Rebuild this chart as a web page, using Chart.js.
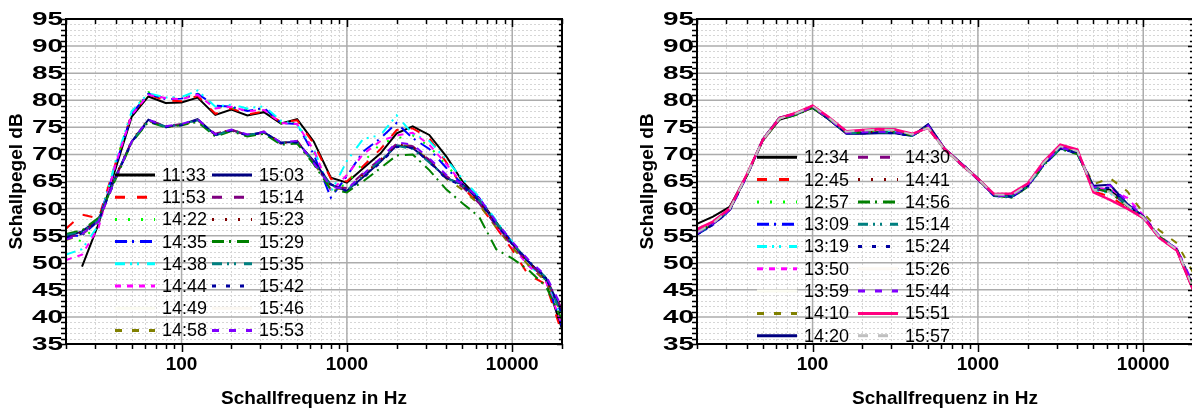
<!DOCTYPE html>
<html>
<head>
<meta charset="utf-8">
<script src="https://cdn.jsdelivr.net/npm/chart.js@4"></script>
<style>
  html, body { margin: 0; padding: 0; background: #fff; overflow: hidden; width: 1192px; height: 411px; }
  #left { position: absolute; left: 0; top: 0; }
  #right { position: absolute; left: 631px; top: 0; }
</style>
</head>
<body>
<canvas id="left" width="631" height="411"></canvas>
<canvas id="right" width="563" height="411"></canvas>
<script>
// third-octave bands
const FREQ = [20, 25, 31.5, 40, 50, 63, 80, 100, 125, 160, 200, 250, 315, 400, 500, 630, 800,
  1000, 1250, 1600, 2000, 2500, 3150, 4000, 5000, 6300, 8000, 10000, 12500, 16000, 20000];
const X_TICKS = [100, 1000, 10000];
const Y_TICKS = [35, 40, 45, 50, 55, 60, 65, 70, 75, 80, 85, 90, 95];
const X_TITLE = 'Schallfrequenz in Hz';
const Y_TITLE = 'Schallpegel dB';

// left panel
const LEFT_NAMES = ['11:33', '11:53', '14:22', '14:35', '14:38', '14:44', '14:49', '14:58',
  '15:03', '15:14', '15:23', '15:29', '15:35', '15:42', '15:46', '15:53'];
const L1133 = [null, 49.3, 57.2, 67.5, 77.0, 80.7, 79.5, 79.6, 80.5, 77.3, 78.3, 77.2, 77.8, 75.7, 76.5, 72.4, 65.7, 64.8, 67.4, 70.2, 73.9, 75.2, 73.6, 69.6, 65.0, 61.8, 57.5, 53.6, 50.2, 46.8, 37.8];
const L1153 = [56.3, 58.9, 58.2, 68.5, 77.5, 81.0, 80.0, 79.8, 80.8, 77.5, 78.5, 77.4, 77.9, 76.0, 76.3, 72.0, 65.5, 65.0, 67.8, 71.0, 74.5, 74.8, 73.0, 68.5, 64.0, 60.8, 56.5, 52.4, 47.8, 46.0, 37.0];
const L1422 = [54.5, 54.0, 57.5, 68.5, 77.8, 81.5, 80.3, 80.5, 81.3, 78.8, 78.6, 78.2, 78.4, 75.8, 75.8, 70.5, 63.5, 64.5, 68.5, 72.0, 73.0, 73.5, 71.5, 68.0, 64.8, 61.5, 57.2, 53.0, 49.8, 46.8, 39.0];
const L1435 = [55.0, 55.0, 57.8, 68.0, 77.5, 81.2, 80.2, 80.3, 81.2, 79.0, 78.8, 78.0, 78.6, 75.8, 75.6, 70.0, 62.0, 66.0, 70.5, 73.0, 75.8, 73.0, 71.0, 67.5, 64.5, 62.0, 57.4, 53.8, 50.3, 47.0, 38.2];
const L1438 = [51.5, 52.5, 57.0, 68.8, 78.0, 81.3, 80.5, 80.6, 81.8, 78.8, 79.2, 78.5, 78.9, 76.2, 75.5, 71.0, 63.0, 68.8, 72.8, 73.6, 77.2, 73.8, 72.5, 69.0, 65.5, 62.2, 57.8, 53.8, 49.5, 47.2, 39.5];
const L1444 = [50.5, 51.5, 56.5, 68.3, 77.3, 81.0, 80.4, 80.2, 81.0, 78.5, 78.8, 78.0, 78.2, 75.8, 75.6, 70.8, 63.2, 66.2, 70.0, 72.5, 73.5, 74.0, 71.8, 68.2, 64.6, 61.8, 57.0, 53.0, 49.5, 46.5, 38.5];
const L1449 = [54.0, 54.8, 57.6, 68.2, 77.4, 81.0, 80.1, 80.2, 81.0, 78.4, 78.6, 77.9, 78.3, 75.9, 75.8, 71.0, 64.0, 65.5, 69.0, 72.0, 74.0, 73.8, 72.0, 68.3, 64.8, 61.6, 57.3, 53.3, 49.8, 46.8, 38.5];
const L1458 = [54.2, 55.2, 57.6, 65.6, 72.3, 76.2, 75.0, 75.4, 76.3, 73.6, 74.4, 73.5, 74.0, 72.0, 72.2, 68.4, 63.8, 63.5, 66.0, 69.0, 71.8, 71.5, 68.8, 65.5, 63.5, 60.8, 56.5, 52.8, 49.6, 46.6, 40.5];
const L1503 = [54.8, 55.8, 58.0, 66.0, 72.4, 76.4, 75.1, 75.5, 76.5, 73.6, 74.5, 73.6, 74.1, 72.2, 72.3, 68.8, 64.4, 63.3, 65.8, 68.7, 71.7, 71.2, 68.7, 65.6, 64.5, 61.5, 57.2, 53.5, 50.2, 47.2, 41.0];
const L1514 = [54.5, 55.5, 57.8, 65.8, 72.5, 76.3, 75.2, 75.6, 76.4, 73.8, 74.6, 73.5, 74.0, 72.0, 72.5, 68.5, 64.0, 63.8, 66.5, 69.2, 72.0, 71.5, 69.0, 66.0, 64.0, 61.0, 56.8, 53.2, 50.0, 47.0, 41.5];
const L1523 = [55.0, 55.6, 58.1, 66.1, 72.6, 76.5, 75.2, 75.5, 76.4, 73.7, 74.6, 73.6, 74.2, 72.1, 72.4, 68.6, 64.2, 63.6, 66.2, 69.0, 71.9, 71.4, 68.9, 65.8, 64.2, 61.3, 57.0, 53.4, 50.1, 47.1, 40.8];
const L1529 = [55.3, 56.0, 58.3, 65.5, 72.2, 76.0, 75.0, 75.4, 76.0, 73.3, 74.3, 73.3, 73.8, 71.8, 72.0, 68.2, 63.5, 63.0, 65.0, 67.5, 69.8, 70.0, 67.1, 63.5, 61.0, 58.5, 52.5, 50.8, 48.7, 45.6, 39.5];
const L1535 = [55.1, 55.7, 57.9, 65.9, 72.4, 76.3, 75.1, 75.6, 76.3, 73.5, 74.5, 73.6, 74.0, 72.1, 72.3, 68.6, 64.3, 63.4, 66.0, 68.9, 71.6, 71.0, 68.5, 65.7, 64.3, 61.6, 57.4, 53.6, 50.4, 47.3, 40.2];
const L1542 = [54.6, 55.4, 57.7, 65.7, 72.3, 76.2, 75.0, 75.4, 76.4, 73.6, 74.4, 73.5, 74.1, 72.1, 72.2, 68.7, 64.5, 63.2, 65.6, 68.5, 71.4, 71.2, 68.6, 65.4, 64.3, 61.4, 57.1, 53.4, 50.3, 47.3, 40.5];
const L1546 = [54.9, 55.6, 57.9, 65.9, 72.5, 76.3, 75.1, 75.5, 76.4, 73.6, 74.5, 73.6, 74.1, 72.2, 72.3, 68.7, 64.3, 63.4, 65.9, 68.8, 71.7, 71.3, 68.7, 65.6, 64.3, 61.4, 57.1, 53.4, 50.2, 47.1, 40.8];
const L1553 = [54.3, 55.3, 57.6, 65.7, 72.4, 76.4, 75.2, 75.6, 76.5, 73.7, 74.6, 73.7, 74.2, 72.2, 72.5, 68.4, 64.0, 63.6, 66.3, 69.3, 72.2, 71.8, 69.3, 66.2, 64.5, 62.0, 57.6, 53.9, 50.6, 47.6, 41.8];

// right panel
const RIGHT_NAMES = ['12:34', '12:45', '12:57', '13:09', '13:19', '13:50', '13:59', '14:10', '14:20',
  '14:30', '14:41', '14:56', '15:14', '15:24', '15:26', '15:44', '15:51', '15:57'];
const R1234 = [57.2, 58.5, 60.3, 66.2, 72.6, 76.4, 77.4, 78.6, 76.5, 74.0, 73.9, 74.1, 74.0, 73.5, 75.3, 71.0, 68.2, 65.4, 62.4, 62.2, 64.2, 68.3, 71.2, 70.2, 63.8, 63.5, 60.6, 58.4, 54.8, 52.3, 45.0];
const R1245 = [55.8, 57.4, 59.8, 66.2, 72.7, 76.6, 77.6, 79.0, 76.8, 74.2, 74.3, 74.5, 74.4, 73.6, 74.8, 70.8, 68.0, 65.4, 62.6, 62.6, 64.3, 68.5, 71.6, 70.6, 63.2, 62.2, 60.2, 58.2, 54.7, 52.2, 45.2];
const R1257 = [55.6, 57.3, 59.9, 66.0, 72.5, 76.5, 77.5, 78.8, 76.6, 74.1, 74.2, 74.3, 74.2, 73.5, 75.0, 70.9, 68.1, 65.5, 62.4, 62.3, 64.2, 68.3, 71.3, 70.4, 63.6, 63.0, 60.7, 58.5, 54.9, 52.4, 45.5];
const R1309 = [55.2, 57.0, 59.6, 66.1, 72.8, 76.7, 77.6, 78.8, 76.6, 73.9, 73.9, 74.0, 74.0, 73.4, 75.2, 70.9, 68.1, 65.3, 62.3, 62.1, 64.0, 68.0, 71.0, 70.2, 63.7, 63.2, 60.5, 58.3, 54.6, 52.3, 45.4];
const R1319 = [55.5, 57.2, 59.8, 66.0, 72.6, 76.6, 77.5, 78.9, 76.7, 74.1, 74.2, 74.4, 74.3, 73.5, 75.0, 70.8, 68.0, 65.4, 62.5, 62.4, 64.3, 68.4, 71.4, 70.5, 63.5, 62.8, 60.6, 58.4, 54.8, 52.5, 45.8];
const R1350 = [55.8, 57.5, 59.9, 66.1, 72.7, 76.6, 77.6, 79.0, 76.8, 74.3, 74.4, 74.6, 74.5, 73.7, 74.9, 70.9, 68.1, 65.5, 62.6, 62.5, 64.4, 68.6, 71.6, 70.7, 63.8, 63.6, 62.0, 58.8, 55.0, 52.6, 46.0];
const R1359 = [55.5, 57.2, 59.8, 66.1, 72.6, 76.6, 77.5, 78.8, 76.6, 74.1, 74.2, 74.3, 74.2, 73.5, 75.1, 70.9, 68.1, 65.4, 62.5, 62.3, 64.2, 68.3, 71.3, 70.4, 63.7, 63.4, 60.8, 58.5, 54.8, 52.4, 45.6];
const R1410 = [55.4, 57.2, 59.8, 66.0, 72.5, 76.5, 77.4, 78.7, 76.5, 74.0, 74.1, 74.3, 74.2, 73.5, 75.0, 70.8, 68.1, 65.4, 62.5, 62.4, 64.3, 68.4, 71.3, 70.4, 64.5, 65.6, 63.2, 59.2, 56.0, 53.6, 48.2];
const R1420 = [55.3, 57.1, 59.7, 66.1, 72.8, 76.8, 77.6, 78.8, 76.5, 73.8, 73.8, 73.9, 73.9, 73.4, 75.6, 71.1, 68.3, 65.6, 62.5, 62.2, 64.1, 68.2, 71.1, 70.3, 64.2, 64.4, 60.9, 58.6, 54.7, 52.4, 45.5];
const R1430 = [55.6, 57.3, 59.8, 66.1, 72.6, 76.5, 77.5, 78.9, 76.7, 74.2, 74.4, 74.7, 74.6, 73.7, 74.9, 70.8, 68.0, 65.4, 62.6, 62.5, 64.4, 68.5, 71.5, 70.6, 63.6, 63.1, 60.6, 58.3, 54.8, 52.4, 45.3];
const R1441 = [55.4, 57.1, 59.7, 66.0, 72.6, 76.6, 77.5, 78.8, 76.6, 74.0, 74.1, 74.2, 74.1, 73.5, 75.1, 70.9, 68.1, 65.4, 62.4, 62.3, 64.2, 68.3, 71.2, 70.3, 63.6, 63.0, 60.5, 58.4, 54.8, 52.3, 45.4];
const R1456 = [55.5, 57.3, 59.9, 66.0, 72.5, 76.4, 77.3, 78.6, 76.5, 74.0, 74.0, 74.1, 74.1, 73.5, 75.1, 70.9, 68.2, 65.5, 62.4, 62.0, 64.0, 68.0, 71.0, 70.0, 63.8, 63.0, 60.5, 58.5, 54.9, 52.5, 45.8];
const R1514 = [55.3, 57.1, 59.7, 66.1, 72.7, 76.7, 77.6, 78.8, 76.6, 73.9, 74.0, 74.1, 74.0, 73.4, 75.3, 71.0, 68.2, 65.5, 62.4, 62.2, 64.1, 68.1, 71.1, 70.2, 63.8, 63.4, 60.7, 58.5, 54.9, 52.5, 45.7];
const R1524 = [55.2, 57.0, 59.6, 66.0, 72.7, 76.7, 77.6, 78.8, 76.5, 73.9, 73.9, 74.0, 73.9, 73.4, 75.4, 71.0, 68.3, 65.5, 62.5, 62.2, 64.1, 68.2, 71.1, 70.2, 64.0, 63.8, 60.8, 58.5, 54.8, 52.4, 45.5];
const R1526 = [55.4, 57.2, 59.8, 66.1, 72.6, 76.6, 77.5, 78.8, 76.6, 74.0, 74.1, 74.2, 74.1, 73.5, 75.2, 70.9, 68.2, 65.4, 62.5, 62.3, 64.2, 68.3, 71.3, 70.4, 63.7, 63.3, 60.7, 58.5, 54.8, 52.4, 45.6];
const R1544 = [55.4, 57.2, 59.7, 66.0, 72.6, 76.6, 77.5, 78.8, 76.6, 74.0, 74.1, 74.2, 74.1, 73.5, 75.3, 71.0, 68.2, 65.4, 62.4, 62.3, 64.2, 68.3, 71.3, 70.4, 63.9, 64.3, 61.3, 58.6, 54.9, 52.5, 46.2];
const R1551 = [56.2, 57.6, 60.0, 66.3, 72.7, 76.7, 77.7, 79.0, 76.9, 74.3, 74.5, 74.7, 74.6, 73.8, 74.9, 71.0, 68.1, 65.5, 62.7, 62.8, 64.6, 68.7, 71.8, 70.9, 63.0, 61.6, 60.0, 58.3, 54.6, 52.2, 45.0];
const R1557 = [55.6, 57.3, 59.9, 66.2, 72.7, 76.6, 77.6, 78.9, 76.8, 74.2, 74.4, 74.6, 74.5, 73.7, 74.9, 70.9, 68.1, 65.5, 62.6, 62.5, 64.4, 68.5, 71.5, 70.6, 63.5, 63.0, 60.6, 58.4, 54.8, 52.4, 45.4];

const LEFT_SERIES = [L1133, L1153, L1422, L1435, L1438, L1444, L1449, L1458,
  L1503, L1514, L1523, L1529, L1535, L1542, L1546, L1553];
const RIGHT_SERIES = [R1234, R1245, R1257, R1309, R1319, R1350, R1359, R1410, R1420,
  R1430, R1441, R1456, R1514, R1524, R1526, R1544, R1551, R1557];

// line styles, same order in both panels
const STYLES = [
  { color: '#000000', dash: [] },
  { color: '#ff0000', dash: [10, 12] },
  { color: '#00ff00', dash: [2, 11] },
  { color: '#0000ff', dash: [12, 5, 2, 6] },
  { color: '#00ffff', dash: [10, 5, 2, 5, 2, 8] },
  { color: '#ff00ff', dash: [6, 6] },
  { color: '#fcfcf2', dash: [], faint: true },
  { color: '#808000', dash: [7, 10] },
  { color: '#000080', dash: [] },
  { color: '#800080', dash: [10, 12] },
  { color: '#800000', dash: [2, 11] },
  { color: '#008000', dash: [12, 5, 2, 6] },
  { color: '#008080', dash: [10, 5, 2, 5, 2, 8] },
  { color: '#0000a0', dash: [4, 10] },
  { color: '#fcf8f2', dash: [], faint: true },
  { color: '#8000ff', dash: [7, 10] },
  { color: '#ff0080', dash: [], width: 2.5 },
  { color: '#c0c0c0', dash: [10, 10] }
];

const FONT = '"Liberation Sans", Arial, sans-serif';

// grid, axes, y labels and the in-plot legend
const frame = {
  id: 'frame',
  beforeDatasetsDraw(chart) {
    const { ctx, chartArea: a, scales: { x, y } } = chart;
    ctx.save();
    ctx.lineWidth = 1;
    ctx.strokeStyle = '#d6d6d6';
    ctx.setLineDash([2, 2]);
    for (let v = 36; v < 95; v++) {
      if (v % 5 === 0) continue;
      const py = Math.round(y.getPixelForValue(v)) + 0.5;
      ctx.beginPath(); ctx.moveTo(a.left, py); ctx.lineTo(a.right, py); ctx.stroke();
    }
    for (const d of [10, 100, 1000, 10000]) {
      for (let m = 2; m <= 9; m++) {
        const f = m * d;
        if (f <= 20 || f >= 20000) continue;
        const px = Math.round(x.getPixelForValue(f)) + 0.5;
        ctx.beginPath(); ctx.moveTo(px, a.top); ctx.lineTo(px, a.bottom); ctx.stroke();
      }
    }
    ctx.setLineDash([]);
    ctx.strokeStyle = '#acacac';
    ctx.lineWidth = 1.5;
    for (const v of Y_TICKS) {
      if (v === 35 || v === 95) continue;
      const py = y.getPixelForValue(v);
      ctx.beginPath(); ctx.moveTo(a.left, py); ctx.lineTo(a.right, py); ctx.stroke();
    }
    for (const f of X_TICKS) {
      const px = x.getPixelForValue(f);
      ctx.beginPath(); ctx.moveTo(px, a.top); ctx.lineTo(px, a.bottom); ctx.stroke();
    }
    ctx.restore();
  },
  afterDatasetsDraw(chart, args, opts) {
    const { ctx, chartArea: a, scales: { x, y } } = chart;
    ctx.save();
    ctx.strokeStyle = '#000';
    ctx.lineWidth = 2;
    ctx.strokeRect(a.left, a.top, a.right - a.left, a.bottom - a.top);

    // tick marks
    ctx.lineWidth = 1.5;
    ctx.beginPath();
    for (let v = 35; v <= 95; v++) {
      const py = Math.round(y.getPixelForValue(v)) + 0.5;
      const len = v % 5 === 0 ? 7 : 5;
      ctx.moveTo(a.left - len, py); ctx.lineTo(a.left, py);
      ctx.moveTo(a.right, py); ctx.lineTo(a.right - (v % 5 === 0 ? 5 : 3), py);
    }
    for (const d of [10, 100, 1000, 10000]) {
      for (let m = 1; m <= 9; m++) {
        const f = m * d;
        if (f < 20 || f > 20000) continue;
        const px = Math.round(x.getPixelForValue(f)) + 0.5;
        const len = m === 1 ? 8 : 5;
        ctx.moveTo(px, a.bottom); ctx.lineTo(px, a.bottom + len);
        ctx.moveTo(px, a.top); ctx.lineTo(px, a.top + len);
      }
    }
    ctx.stroke();

    // y tick labels, drawn wide like the original
    ctx.fillStyle = '#000';
    ctx.font = 'bold 18px ' + FONT;
    ctx.textAlign = 'right';
    ctx.textBaseline = 'middle';
    for (const v of Y_TICKS) {
      ctx.save();
      ctx.translate(a.left - 3, y.getPixelForValue(v) + 1);
      ctx.scale(1.55, 1);
      ctx.fillText(String(v), 0, 0);
      ctx.restore();
    }

    // legend in two columns
    const lg = opts.legend;
    ctx.font = '18px ' + FONT;
    ctx.textAlign = 'left';
    chart.data.datasets.forEach((ds, i) => {
      const col = i < lg.rows ? 0 : 1;
      const row = i % lg.rows;
      const x0 = lg.cols[col];
      const py = lg.top + row * lg.step;
      ctx.save();
      ctx.strokeStyle = ds.borderColor;
      ctx.lineWidth = 3;
      ctx.setLineDash(ds.borderDash);
      ctx.beginPath(); ctx.moveTo(x0, py); ctx.lineTo(x0 + 40, py); ctx.stroke();
      ctx.restore();
      ctx.fillText(ds.label, x0 + 47, py + 1);
    });
    ctx.restore();
  }
};

function buildChart(id, names, series, legend, padRight) {
  const datasets = series.map((vals, i) => ({
    label: names[i],
    data: FREQ.map((f, k) => ({ x: f, y: vals[k] })),
    borderColor: STYLES[i].color,
    borderDash: STYLES[i].dash,
    borderWidth: STYLES[i].width || 2,
    pointRadius: 0,
    fill: false,
    tension: 0,
    order: STYLES[i].faint ? 100 : -i
  }));
  return new Chart(document.getElementById(id), {
    type: 'line',
    data: { datasets },
    options: {
      responsive: false,
      animation: false,
      devicePixelRatio: 1,
      layout: { padding: { top: 19, right: padRight, left: 0, bottom: 0 } },
      plugins: { legend: { display: false }, tooltip: { enabled: false }, frame: { legend } },
      scales: {
        x: {
          type: 'logarithmic', min: 20, max: 20000,
          grid: { display: false, drawTicks: false },
          border: { display: false },
          afterFit: s => { s.height = 67; },
          afterBuildTicks: s => { s.ticks = X_TICKS.map(v => ({ value: v })); },
          ticks: {
            autoSkip: false, maxRotation: 0, minRotation: 0, padding: 9, color: '#000',
            font: { family: FONT, size: 19, weight: 'bold' },
            callback: v => String(v)
          },
          title: {
            display: true, text: X_TITLE, color: '#000',
            font: { family: FONT, size: 19, weight: 'bold' },
            padding: { top: 0, bottom: 1 }
          }
        },
        y: {
          min: 35, max: 95,
          grid: { display: false, drawTicks: false },
          border: { display: false },
          afterFit: s => { s.width = 66; },
          ticks: { display: false, stepSize: 5 },
          title: {
            display: true, text: Y_TITLE, color: '#000',
            font: { family: FONT, size: 19, weight: 'bold' },
            padding: { top: 5, bottom: 0 }
          }
        }
      }
    },
    plugins: [frame]
  });
}

buildChart('left', LEFT_NAMES, LEFT_SERIES, { rows: 8, top: 175, step: 22.2, cols: [115, 212] }, 69);
buildChart('right', RIGHT_NAMES, RIGHT_SERIES, { rows: 9, top: 157.3, step: 22.3, cols: [126, 227] }, 1);
</script>
</body>
</html>
